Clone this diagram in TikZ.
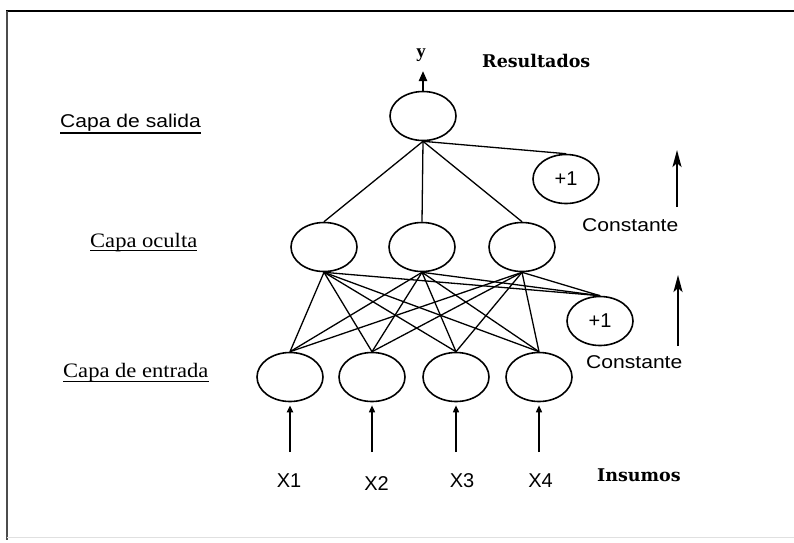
\documentclass[tikz,border=0pt]{standalone}
\usepackage{fontspec}
\setmainfont{Liberation Serif}
\setsansfont{Liberation Sans}
\newfontfamily\slabfont{DejaVu Serif}
\usetikzlibrary{arrows.meta,shapes.geometric}
\begin{document}
\begin{tikzpicture}[x=1pt,y=-1pt,
  neuron/.style={draw,ellipse,line width=1.6pt,minimum width=66pt,minimum height=49pt,inner sep=0pt,
    font=\sffamily\fontsize{20}{22}\selectfont},
  conn/.style={line width=1.3pt},
  inarrow/.style={line width=1.5pt,-{Triangle[length=7pt,width=6pt]},shorten >=3pt},
  bigarrow/.style={line width=2.2pt,-{Stealth[length=17pt,width=9pt,inset=4pt]}},
  sflbl/.style={inner sep=0pt,font=\sffamily\fontsize{18.5}{20}\selectfont},
  xlbl/.style={inner sep=0pt,font=\sffamily\fontsize{20}{22}\selectfont},
  serlbl/.style={inner sep=0pt,font=\rmfamily\fontsize{20.5}{22}\selectfont},
  boldlbl/.style={inner sep=0pt,font=\slabfont\bfseries\fontsize{17.5}{19}\selectfont},
  ulline/.style={line width=1.5pt}
]
\useasboundingbox (0,0) rectangle (794,542);
\fill[white] (0,0) rectangle (794,542);
% frame
\draw[line width=2.5pt] (6,11) -- (794,11);
\draw[line width=1.5pt,black!70] (7,11) -- (7,540);
\draw[line width=1pt,black!12] (7,537) -- (794,537);

% neurons
\node[neuron] (out) at (423,116) {};
\node[neuron] (b1) at (566,179) {+1};
\node[neuron] (h1) at (324,247) {};
\node[neuron] (h2) at (422,247) {};
\node[neuron] (h3) at (522,247) {};
\node[neuron] (b2) at (600,321) {+1};
\node[neuron] (i1) at (290,377) {};
\node[neuron] (i2) at (372,377) {};
\node[neuron] (i3) at (456,377) {};
\node[neuron] (i4) at (539,377) {};

% output connections
\foreach \n in {h1,h2,h3,b1} \draw[conn] (out.south) -- (\n.north);
% hidden connections
\foreach \h in {h1,h2,h3}{
  \foreach \i in {i1,i2,i3,i4} \draw[conn] (\h.south) -- (\i.north);
  \draw[conn] (\h.south) -- (b2.north);
}

% output arrow
\coordinate (yt) at (423,71);
\draw[line width=2.2pt,-{Triangle[length=10pt,width=8pt]}] (out.north) -- (yt);
\node[inner sep=0pt,font=\rmfamily\bfseries\fontsize{19}{21}\selectfont] (ylbl) at (421,55) {y};

% input arrows
\coordinate (s1) at (290,452);
\coordinate (s2) at (372,452);
\coordinate (s3) at (456,452);
\coordinate (s4) at (539,452);
\draw[inarrow,line width=2.2pt] (s1) -- (i1.south);
\draw[inarrow] (s2) -- (i2.south);
\draw[inarrow] (s3) -- (i3.south);
\draw[inarrow] (s4) -- (i4.south);

\node[xlbl,anchor=base] (x1) at (289,487) {X1};
\node[xlbl,anchor=base] (x2) at (376.5,490) {X2};
\node[xlbl,anchor=base] (x3) at (462,487) {X3};
\node[xlbl,anchor=base] (x4) at (540.5,487) {X4};

% constant arrows
\coordinate (ca1) at (677,207);
\coordinate (ca1t) at (677,150);
\coordinate (ca2) at (678,346);
\coordinate (ca2t) at (678,275);
\draw[bigarrow] (ca1) -- (ca1t);
\draw[bigarrow] (ca2) -- (ca2t);

\node[sflbl,anchor=base west] (c1) at (582,231) {\scalebox{1.14}[1]{Constante}};
\node[sflbl,anchor=base west] (c2) at (586,368) {\scalebox{1.14}[1]{Constante}};

% layer labels
\node[sflbl,anchor=base west] (sal) at (60,127.5) {\scalebox{1.14}[1]{Capa de salida}};
\draw[ulline] ([yshift=-5.5pt]sal.base west) -- ([yshift=-5.5pt]sal.base east);
\node[serlbl,anchor=base west] (ocu) at (90,247) {\scalebox{1.1}[1]{Capa oculta}};
\draw[ulline] ([yshift=-3.5pt]ocu.base west) -- ([yshift=-3.5pt]ocu.base east);
\node[serlbl,anchor=base west] (ent) at (63,377) {\scalebox{1.1}[1]{Capa de entrada}};
\draw[ulline] ([yshift=-4.5pt]ent.base west) -- ([yshift=-4.5pt]ent.base east);

\node[boldlbl,anchor=base west] (res) at (482,67) {Resultados};
\node[boldlbl,anchor=base west] (ins) at (597,481) {Insumos};
\end{tikzpicture}
\end{document}
